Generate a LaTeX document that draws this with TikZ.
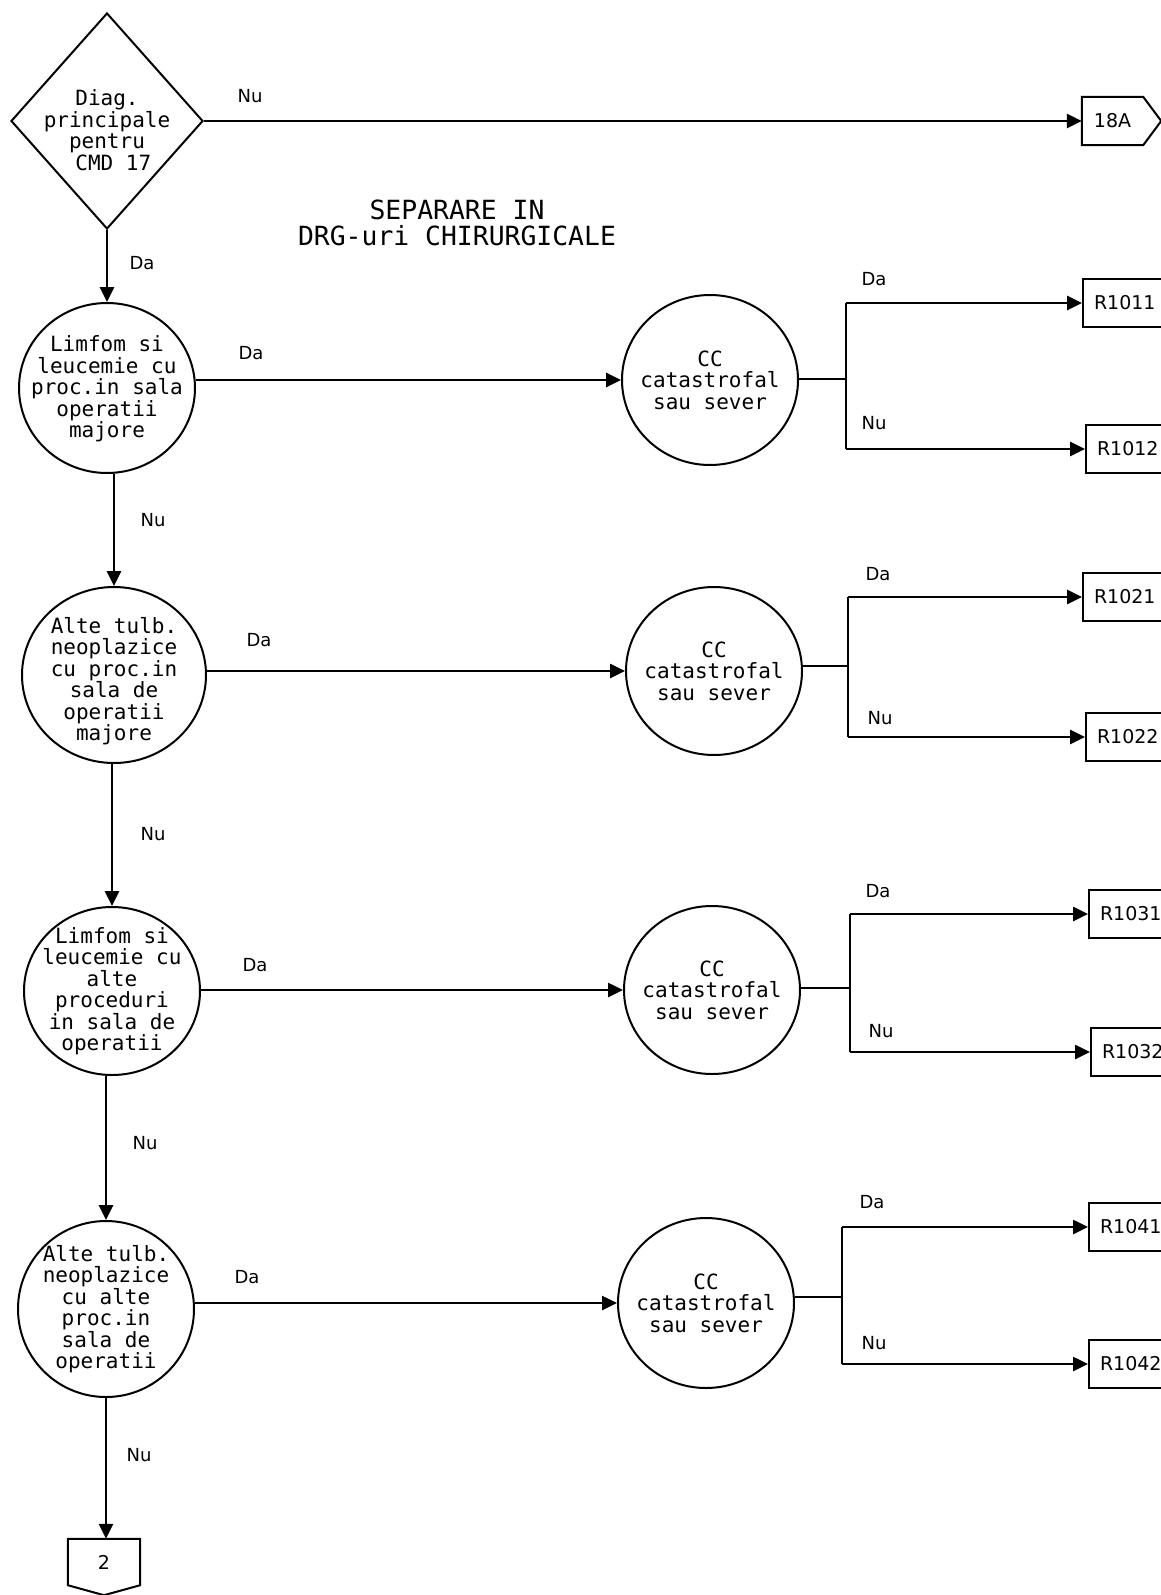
\documentclass[tikz,border=0pt]{standalone}
\usepackage{fontspec}
\setmainfont{DejaVu Sans}
\newfontfamily\monof{DejaVu Sans Mono}
\usetikzlibrary{shapes.geometric,arrows.meta}
\begin{document}
\begin{tikzpicture}[x=1pt,y=-1pt,
  arr/.style={-{Triangle[length=15pt,width=14pt]}, line width=2.6pt},
  thinln/.style={line width=1.5pt},
  brln/.style={line width=2.6pt},
  dec/.style={ellipse, draw, line width=2pt, inner sep=0pt},
  ctxt/.style={align=center, font=\monof\fontsize{21}{21.5}\selectfont, inner sep=0pt},
  lab/.style={font=\fontsize{18}{20}\selectfont, inner sep=0pt},
  term/.style={draw, line width=2pt, rectangle, anchor=west, minimum height=48pt, text width=90pt, inner xsep=11pt, inner ysep=0pt, align=left, font=\fontsize{19}{22}\selectfont},
  conn/.style={rectangle, inner sep=0pt, font=\fontsize{19}{22}\selectfont},
  outl/.style={line width=2pt, line join=miter},
]
\useasboundingbox (0,0) rectangle (1161,1595);
\clip (0,0) rectangle (1161,1595);
\fill[white] (0,0) rectangle (1161,1595);

% decision diamond
\node[diamond, draw, line width=2pt, inner sep=0pt, minimum width=192pt, minimum height=216pt,
  label={[ctxt, yshift=-9pt]center:{Diag.\\principale\\pentru\\~CMD 17}}] (D) at (107,121) {};

% off-page connector 18A
\node[conn, minimum width=61pt, minimum height=48pt] (n18) at (1112.5,121) {18A};
\draw[outl] (n18.north west) -- (n18.north east) -- ([xshift=18pt]n18.east) -- (n18.south east) -- (n18.south west) -- cycle;

% title
\node[align=center, font=\monof\fontsize{26.4}{26.5}\selectfont, inner sep=0pt] (title) at (457,223) {SEPARARE IN\\DRG-uri CHIRURGICALE};

% left column decisions
\node[dec, minimum width=176pt, minimum height=170pt,
  label={[ctxt, yshift=-1pt]center:{Limfom si\\leucemie cu\\proc.in sala\\operatii\\majore}}] (C1) at (107,388) {};
\node[dec, minimum width=184pt, minimum height=176pt,
  label={[ctxt, yshift=-6pt]center:{Alte tulb.\\neoplazice\\cu proc.in\\sala de\\operatii\\majore}}] (C2) at (114,675) {};
\node[dec, minimum width=176pt, minimum height=168pt,
  label={[ctxt]center:{Limfom si\\leucemie cu\\alte\\proceduri\\in sala de\\operatii}}] (C3) at (112,991) {};
\node[dec, minimum width=176pt, minimum height=176pt,
  label={[ctxt]center:{Alte tulb.\\neoplazice\\cu alte\\proc.in\\sala de\\operatii}}] (C4) at (106,1309) {};

% off-page connector 2
\node[conn, minimum width=72pt, minimum height=46pt] (P2) at (104,1562) {2};
\draw[outl] (P2.north west) -- (P2.north east) -- (P2.south east) -- ([yshift=-10pt]P2.south) -- (P2.south west) -- cycle;

% CC decisions
\node[dec, minimum width=176pt, minimum height=170pt,
  label={[ctxt]center:{CC\\catastrofal\\sau sever}}] (CC1) at (710,380) {};
\node[dec, minimum width=176pt, minimum height=168pt,
  label={[ctxt]center:{CC\\catastrofal\\sau sever}}] (CC2) at (714,671) {};
\node[dec, minimum width=176pt, minimum height=168pt,
  label={[ctxt]center:{CC\\catastrofal\\sau sever}}] (CC3) at (712,990) {};
\node[dec, minimum width=176pt, minimum height=170pt,
  label={[ctxt]center:{CC\\catastrofal\\sau sever}}] (CC4) at (706,1303) {};

% result boxes
\node[term] (R1011) at (1082,303) {R1011};
\node[term] (R1012) at (1085,449) {R1012};
\node[term] (R1021) at (1082,597) {R1021};
\node[term] (R1022) at (1085,737) {R1022};
\node[term] (R1031) at (1088,914) {R1031};
\node[term] (R1032) at (1090,1052) {R1032};
\node[term] (R1041) at (1088,1227) {R1041};
\node[term] (R1042) at (1088,1364) {R1042};

% branch points
\coordinate (b1) at (846,379);
\coordinate (b2) at (848,666);
\coordinate (b3) at (850,988);
\coordinate (b4) at (842,1297);

% main connectors
\draw[arr] (D.east) -- (n18.west);
\draw[arr] (D.south) -- (C1.north);
\draw[arr] (C1.south -| C2.north) -- (C2.north);
\draw[arr] (C2.south -| C3.north) -- (C3.north);
\draw[arr] (C3.south -| C4.north) -- (C4.north);
\draw[arr] (C4.south) -- (C4.south |- P2.north);

\draw[arr] (C1.east |- CC1.west) -- (CC1.west);
\draw[arr] (C2.east |- CC2.west) -- (CC2.west);
\draw[arr] (C3.east |- CC3.west) -- (CC3.west);
\draw[arr] (C4.east |- CC4.west) -- (CC4.west);

% branches
\foreach \k/\a/\b in {1/R1011/R1012, 2/R1021/R1022, 3/R1031/R1032, 4/R1041/R1042}{
  \draw[thinln] (CC\k.east |- b\k) -- (b\k);
  \draw[brln] (b\k |- \a.west) -- (b\k |- \b.west);
  \draw[arr] (b\k |- \a.west) -- (\a.west);
  \draw[arr] (b\k |- \b.west) -- (\b.west);
}

% labels
\node[lab] (l0) at (250,96) {Nu};
\node[lab] (l1) at (142,263) {Da};
\node[lab] (l2) at (251,353) {Da};
\node[lab] (l3) at (153,520) {Nu};
\node[lab] (l4) at (259,640) {Da};
\node[lab] (l5) at (153,834) {Nu};
\node[lab] (l6) at (255,965) {Da};
\node[lab] (l7) at (145,1143) {Nu};
\node[lab] (l8) at (247,1277) {Da};
\node[lab] (l9) at (139,1455) {Nu};

\node[lab] (m1) at (874,279) {Da};
\node[lab] (n1) at (874,423) {Nu};
\node[lab] (m2) at (878,574) {Da};
\node[lab] (n2) at (880,718) {Nu};
\node[lab] (m3) at (878,891) {Da};
\node[lab] (n3) at (881,1031) {Nu};
\node[lab] (m4) at (872,1202) {Da};
\node[lab] (n4) at (874,1343) {Nu};
\end{tikzpicture}
\end{document}
